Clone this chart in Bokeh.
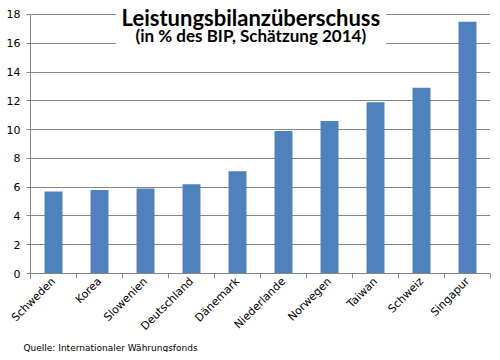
import math
from bokeh.plotting import figure
from bokeh.models import FixedTicker, Label, ColumnDataSource, Title
from bokeh.embed import file_html
from bokeh.resources import INLINE

countries = ["Schweden", "Korea", "Slowenien", "Deutschland", "Dänemark",
             "Niederlande", "Norwegen", "Taiwan", "Schweiz", "Singapur"]
values = [5.7, 5.8, 5.9, 6.2, 7.1, 9.9, 10.6, 11.9, 12.9, 17.5]
y_ticks = [0, 2, 4, 6, 8, 10, 12, 14, 16, 18]
title_text = "Leistungsbilanzüberschuss"
subtitle_text = "(in % des BIP, Schätzung 2014)"
source_text = "Quelle: Internationaler Währungsfonds"

centers = [i + 0.5 for i in range(len(countries))]
src = ColumnDataSource(dict(x=centers, top=values))

Y_TOP = 18.97  # frame extends a little above 18 so the title fits inside the frame

p = figure(width=492, height=352, x_range=(0, len(countries)), y_range=(0, Y_TOP),
           output_backend="svg", toolbar_location=None,
           min_border_left=30, min_border_right=2, min_border_top=0, min_border_bottom=79)
p.outline_line_color = None
p.background_fill_color = "white"

# white box behind the title
p.quad(left=[1.86], right=[7.73], bottom=[15.3], top=[Y_TOP], fill_color="white", line_color=None)

p.vbar(x="x", top="top", width=0.39, bottom=0, source=src, fill_color="#4F81BD", line_color=None)

grey = "#868686"
# y axis
p.yaxis.ticker = FixedTicker(ticks=y_ticks)
p.yaxis.bounds = (0, 18)
p.yaxis.axis_line_color = grey
p.yaxis.major_tick_line_color = grey
p.yaxis.major_tick_out = 4
p.yaxis.major_tick_in = 0
p.yaxis.minor_tick_line_color = None
p.yaxis.major_label_standoff = 6
p.yaxis.major_label_text_font = "DejaVu Sans"
p.yaxis.major_label_text_font_size = "11px"
p.yaxis.major_label_text_color = "#000000"

p.ygrid.ticker = FixedTicker(ticks=y_ticks)
p.ygrid.grid_line_color = grey
p.ygrid.grid_line_width = 1
p.xgrid.grid_line_color = None

# x axis: labels at centers, tick marks at boundaries (minor ticks)
p.xaxis.ticker = FixedTicker(ticks=centers, minor_ticks=list(range(len(countries) + 1)))
p.xaxis.major_label_overrides = {c: n for c, n in zip(centers, countries)}
p.xaxis.major_tick_line_color = None
p.xaxis.major_tick_out = 5
p.xaxis.major_tick_in = 0
p.xaxis.minor_tick_line_color = grey
p.xaxis.minor_tick_out = 5
p.xaxis.minor_tick_in = 0
p.xaxis.axis_line_color = grey
p.xaxis.major_label_orientation = math.pi / 4
p.xaxis.major_label_standoff = 1
p.xaxis.major_label_text_font = "DejaVu Sans"
p.xaxis.major_label_text_font_size = "11px"
p.xaxis.major_label_text_color = "#000000"

p.add_layout(Label(x=4.79, y=17.82, text=title_text, text_align="center",
                   text_baseline="alphabetic", text_font="Lato", text_font_style="bold",
                   text_font_size="22px", text_color="#000000"))
p.add_layout(Label(x=4.79, y=16.54, text=subtitle_text, text_align="center",
                   text_baseline="alphabetic", text_font="Lato", text_font_style="bold",
                   text_font_size="17px", text_color="#000000"))

p.add_layout(Title(text=source_text, align="left", offset=-7, standoff=0,
                   text_font="DejaVu Sans", text_font_style="normal",
                   text_font_size="9px", text_color="#000000"), "below")

open("out.html", "w").write(file_html(p, INLINE))
